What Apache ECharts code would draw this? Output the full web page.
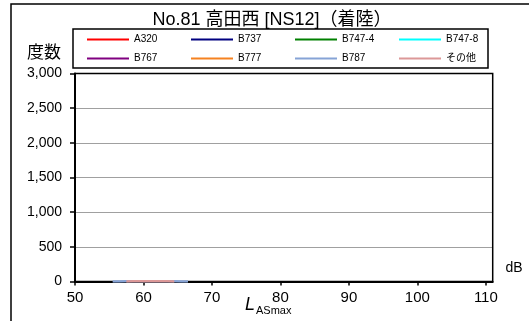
<!DOCTYPE html>
<html><head><meta charset="utf-8">
<script src="https://cdn.jsdelivr.net/npm/echarts@6/dist/echarts.min.js"></script>
<style>html,body{margin:0;padding:0;background:#fff}#c{width:529px;height:321px}</style>
</head><body><div id="c"></div>
<script>
const titleText = 'No.81 高田西 [NS12]（着陸）';
const seriesNames = ['A320','B737','B747-4','B747-8','B767','B777','B787','その他'];
const seriesColors = ['#FF0000','#000080','#008000','#00FFFF','#800080','#F58220','#86A3D6','#DC9898'];
// counts per dB (all far below visible scale)
const dataA320 = [];
const dataB737 = [];
const dataB7474 = [];
const dataB7478 = [];
const dataB767 = [];
const dataB777 = [];
const dataB787 = [[55.5,1],[56.5,1],[57.5,2],[58.5,3],[59.5,4],[60.5,5],[61.5,5],[62.5,4],[63.5,3],[64.5,2],[65.5,1],[66.5,1]];
const dataOther = [[57.5,1],[58.5,2],[59.5,3],[60.5,4],[61.5,4],[62.5,3],[63.5,2],[64.5,1]];
const allData = [dataA320,dataB737,dataB7474,dataB7478,dataB767,dataB777,dataB787,dataOther];
const xMin = 50, xMax = 111, xInterval = 10;
const yMin = 0, yMax = 3000, yInterval = 500;

const chart = echarts.init(document.getElementById('c'));
const FONT = '"Liberation Sans", Arial, "Noto Sans CJK JP", sans-serif';
const G = {left: 75, top: 73.5, right: 36.3, bottom: 39.5};
chart.setOption({
  animation: false,
  backgroundColor: '#fff',
  textStyle: {fontFamily: FONT},
  grid: {left: G.left, top: G.top, right: G.right, bottom: G.bottom, show: false, containLabel: false},
  legend: {
    left: 87, top: 30, width: 420, itemGap: 0, itemWidth: 42, itemHeight: 2,
    icon: 'rect', padding: 0,
    data: seriesNames,
    textStyle: {fontSize: 10, color: '#000', width: 57, padding: [0,0,0,0], fontFamily: FONT, lineHeight: 19}
  },
  xAxis: {
    type: 'value', min: xMin, max: xMax, interval: xInterval,
    axisLine: {show: true, lineStyle: {color: '#000', width: 2}},
    axisTick: {show: true, length: 4, lineStyle: {color: '#000', width: 1.5}},
    axisLabel: {show: true, color: '#000', fontSize: 15, margin: 9, showMaxLabel: false,
      formatter: v => (v % 10 === 0 ? String(v) : '')},
    splitLine: {show: false}
  },
  yAxis: {
    type: 'value', min: yMin, max: yMax, interval: yInterval,
    axisLine: {show: true, lineStyle: {color: '#000', width: 2}},
    axisTick: {show: true, length: 5, lineStyle: {color: '#000', width: 1.5}},
    axisLabel: {show: true, color: '#000', fontSize: 14, margin: 13,
      formatter: v => v.toLocaleString('en-US')},
    splitLine: {show: true, lineStyle: {color: '#A0A0A0', width: 1}}
  },
  series: seriesNames.map((n,i) => ({
    name: n, type: 'line', data: allData[i], showSymbol: false, symbol: 'none', z: 5,
    lineStyle: {color: seriesColors[i], width: 2.5}, itemStyle: {color: seriesColors[i]}
  })),
  graphic: [
    {type: 'rect', shape: {x: 11, y: 4, width: 700, height: 500}, style: {fill: 'none', stroke: '#000', lineWidth: 1.5}, silent: true, z: 100},
    {type: 'rect', shape: {x: G.left, y: G.top, width: 529 - G.left - G.right, height: 321 - G.top - G.bottom}, style: {fill: 'none', stroke: '#000', lineWidth: 1.5}, silent: true, z: 1},
    {type: 'rect', shape: {x: 73, y: 29, width: 415, height: 39}, style: {fill: 'none', stroke: '#000', lineWidth: 1.5}, silent: true, z: 100},
    {type: 'text', x: 272, y: 20, style: {text: titleText, fill: '#000', font: '18px ' + FONT, textAlign: 'center', textVerticalAlign: 'middle'}, z: 100},
    {type: 'text', x: 44, y: 53, style: {text: '度数', fill: '#000', font: '17px ' + FONT, textAlign: 'center', textVerticalAlign: 'middle'}, z: 100},
    {type: 'text', x: 514, y: 268, style: {text: 'dB', fill: '#000', font: '14px ' + FONT, textAlign: 'center', textVerticalAlign: 'middle'}, z: 100},
    {type: 'text', x: 245, y: 296, style: {
      text: '{l|L}{s|ASmax}', fill: '#000',
      rich: {l: {fontSize: 18, fontStyle: 'italic', fontFamily: FONT, verticalAlign: 'top', lineHeight: 20},
             s: {fontSize: 11, fontFamily: FONT, padding: [10,0,0,1], lineHeight: 20}}
    }, z: 100}
  ]
});
</script></body></html>
